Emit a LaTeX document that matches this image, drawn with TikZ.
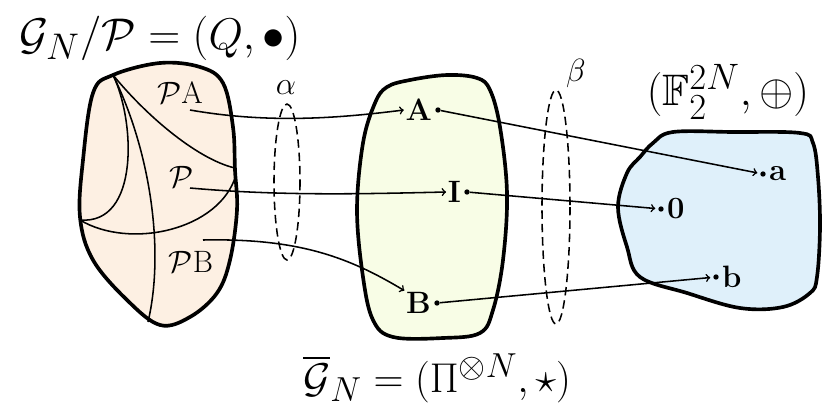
\documentclass[tikz,border=0pt]{standalone}
\usepackage{amsmath,amssymb}
\usetikzlibrary{positioning}
\definecolor{peach}{RGB}{253,240,227}
\definecolor{lime}{RGB}{248,253,230}
\definecolor{sky}{RGB}{223,240,250}
\tikzset{
	blob/.style={line width=2.6pt,line join=round},
	cut/.style={line width=1.1pt},
	arr/.style={line width=1.1pt,->},
	ring/.style={line width=1.1pt,dash pattern=on 6pt off 3.5pt},
	pt/.style={circle,fill,inner sep=0pt,minimum size=3.8pt},
	big/.style={font=\Huge,scale=#1,transform shape},
	lbl/.style={font=\huge,scale=1.06,transform shape,inner sep=1pt},
	greek/.style={font=\huge,scale=1.1,transform shape},
}
\begin{document}
\begin{tikzpicture}[x=0.025cm,y=-0.025cm]
	\useasboundingbox (0,0) rectangle (830,416);
	% the three sets
	\draw[blob,fill=peach] plot[smooth cycle,tension=0.6] coordinates {(113,75) (160,63) (200,67) (223,83) (233,127) (235,170) (237,210) (230,260) (217,293) (190,317) (160,325) (127,300) (93,260) (80,217) (83,160) (93,93)};
	\draw[blob,fill=lime] plot[smooth cycle,tension=0.6] coordinates {(387,87) (410,80) (447,75) (477,78) (490,90) (500,127) (507,193) (503,260) (493,310) (480,333) (443,338) (393,337) (373,320) (363,277) (357,210) (363,143) (375,103)};
	\draw[blob,fill=sky] plot[smooth cycle,tension=0.6] coordinates {(653,143) (673,132) (733,132) (800,133) (813,143) (818,177) (820,227) (817,277) (810,293) (783,307) (740,308) (687,293) (640,277) (627,247) (618,207) (627,173) (640,157)};
	% cosets
	\draw[cut] (113,75) .. controls (150,120) and (200,160) .. (235,168);
	\draw[cut] (113,75) .. controls (135,120) and (140,225) .. (80,220);
	\draw[cut] (113,75) .. controls (150,150) and (165,250) .. (148,322);
	\draw[cut] (80,220) .. controls (130,250) and (220,230) .. (236,175);
	% maps
	\draw[ring] (287,182) ellipse [x radius=13,y radius=78];
	\draw[ring] (556,207) ellipse [x radius=14,y radius=117];
	\node[greek] (alpha) at (286,88) {$\alpha$};
	\node[greek] (beta) at (576,73) {$\beta$};
	% titles
	\node[big=1.27] (quot) at (160,38) {$\mathcal{G}_N/\mathcal{P}=(Q,\bullet)$};
	\node[big=1.19] (pauli) at (437,378) {$\overline{\mathcal{G}}_N=(\Pi^{\otimes N},\star)$};
	\node[big=1.26] (field) at (728,92) {$(\mathbb{F}_2^{2N},\oplus)$};
	% cosets labels
	\node[lbl] (PA) at (180,93) {$\mathcal{P}$A};
	\node[lbl] (P) at (182,177) {$\mathcal{P}$};
	\node[lbl] (PB) at (191,262) {$\mathcal{P}$B};
	\coordinate (sPA) at (190,110);
	\coordinate (sP) at (190,188);
	\coordinate (sPB) at (203,240);
	% elements
	\node[pt] (dA) at (438,110) {};
	\node[pt] (dI) at (467,192) {};
	\node[pt] (dB) at (437,303) {};
	\node[lbl,left=1pt of dA] (A) {$\mathbf{A}$};
	\node[lbl,left=1pt of dI] (I) {$\mathbf{I}$};
	\node[lbl,left=1pt of dB] (B) {$\mathbf{B}$};
	\node[pt] (da) at (763,174) {};
	\node[pt] (d0) at (661,209) {};
	\node[pt] (db) at (716,277) {};
	\node[lbl,right=1pt of da] (a) {$\mathbf{a}$};
	\node[lbl,right=1pt of d0] (o) {$\mathbf{0}$};
	\node[lbl,right=1pt of db] (b) {$\mathbf{b}$};
	% arrows
	\draw[arr] (sPA) .. controls (270,124) and (340,118) .. (A.west);
	\draw[arr] (sP) .. controls (280,196) and (360,194) .. (I.west);
	\draw[arr] (sPB) .. controls (300,238) and (350,258) .. (B.north west);
	\draw[arr,shorten >=2pt] (dA) -- (da);
	\draw[arr,shorten >=2pt] (dI) -- (d0);
	\draw[arr,shorten >=2pt] (dB) -- (db);
\end{tikzpicture}
\end{document}
